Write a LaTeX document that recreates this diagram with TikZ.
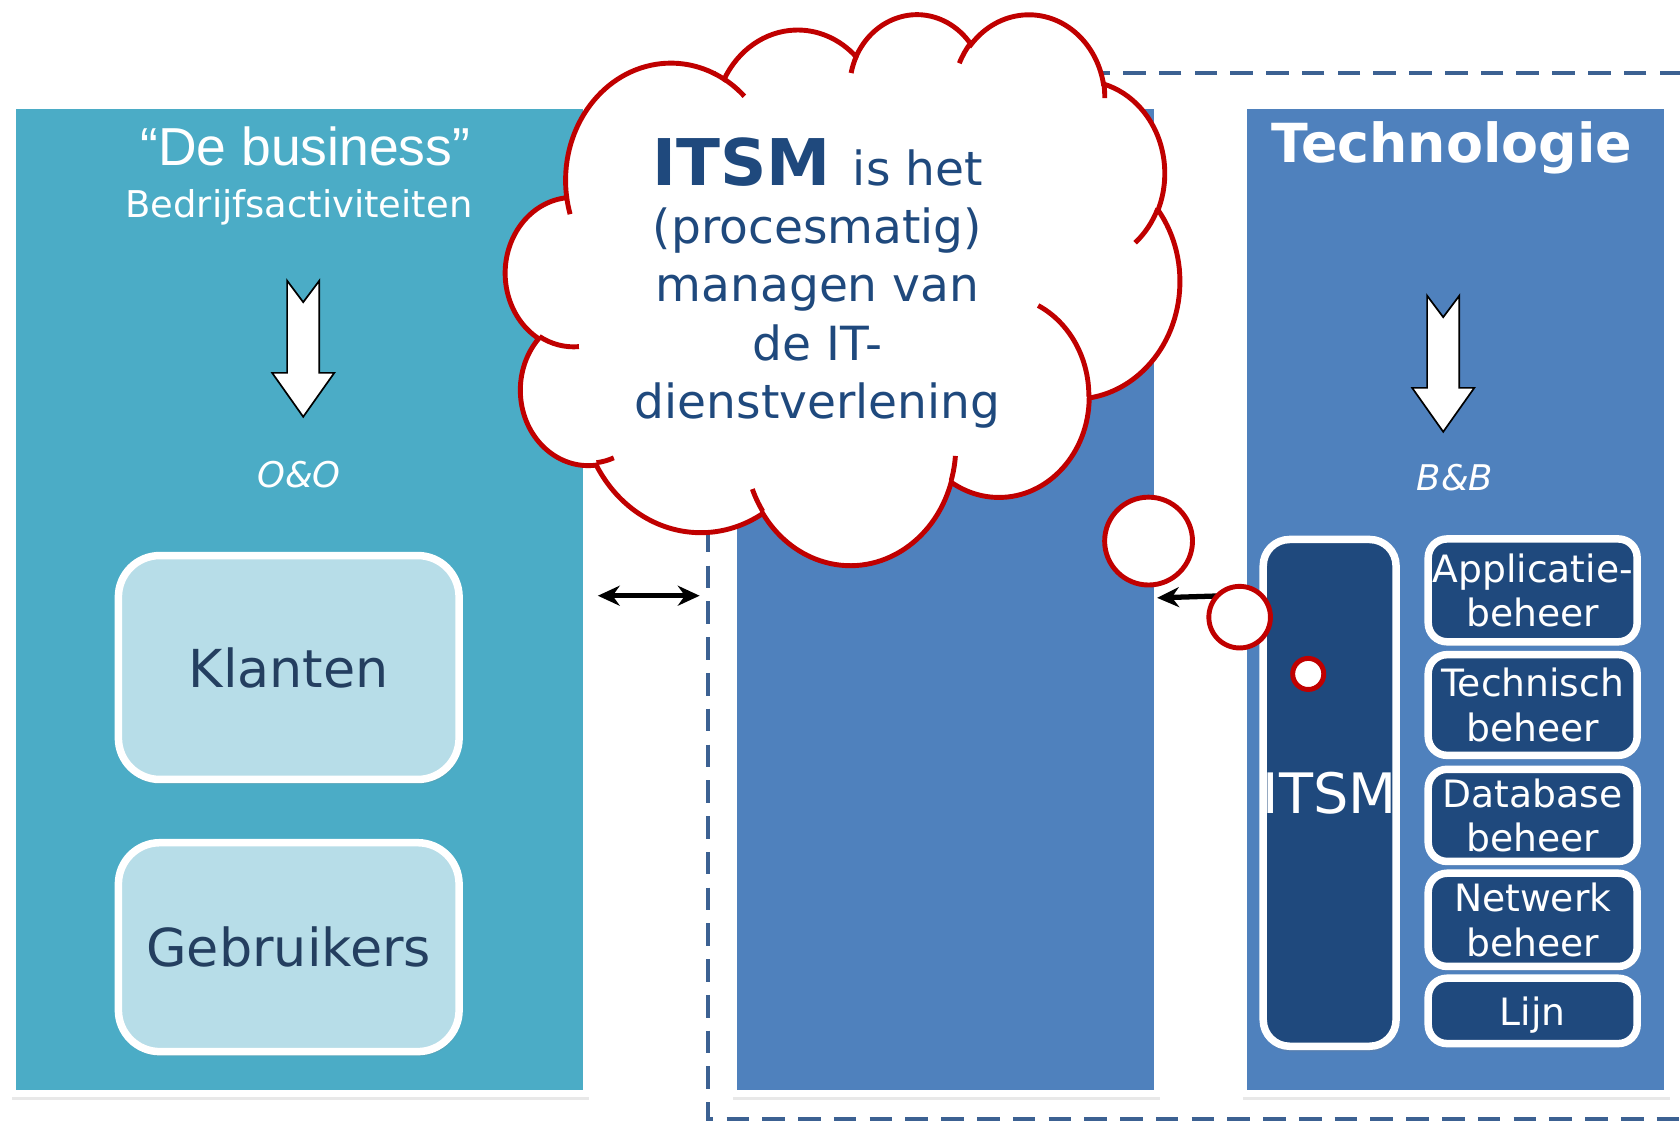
\documentclass[tikz,border=0pt]{standalone}
\usepackage{fontspec}
\setmainfont{DejaVu Sans}
\newfontfamily\arialfont{Liberation Sans}
\usetikzlibrary{arrows.meta,shadows,calc}
\definecolor{busteal}{HTML}{4BACC6}
\definecolor{paleteal}{HTML}{B7DDE8}
\definecolor{midblue}{HTML}{4F81BD}
\definecolor{deepnavy}{HTML}{1F497D}
\definecolor{inknavy}{HTML}{243F60}
\definecolor{cloudred}{HTML}{C00000}
\definecolor{dashblue}{HTML}{3C6192}
\newcommand{\pxu}{0.1mm}
\tikzset{
  softshadow/.style={drop shadow={shadow xshift=0.3pt, shadow yshift=-1pt, shadow scale=1.006, opacity=0.18}},
  panel/.style={draw=white, line width=6*\pxu, inner sep=0pt, minimum width=396*\pxu,
    minimum height=922*\pxu, softshadow},
  roleblock/.style={draw=white, fill=paleteal, line width=7*\pxu, rounded corners=11pt,
    inner sep=0pt, minimum width=318*\pxu, text=inknavy,
    font=\fontsize{13.9}{16}\selectfont, softshadow},
  taskblock/.style={draw=white, fill=deepnavy, line width=7*\pxu, rounded corners=5pt,
    inner sep=0pt, minimum width=195*\pxu, text=white, align=center,
    font=\fontsize{10}{11.9}\selectfont, softshadow},
  blockarrow/.style={draw=black, fill=white, line width=0.45pt},
  puff/.style={circle, draw=cloudred, fill=white, line width=1.3pt, inner sep=0pt},
  lbl/.style={text=white, anchor=base, inner sep=0pt},
  link/.style={line width=1.4pt},
  oarc/.style n args={4}{x radius=#1, y radius=#2,
    start angle={atan2(#1*sin(#3),#2*cos(#3))},
    delta angle={mod(atan2(#1*sin(#3+#4),#2*cos(#3+#4))-atan2(#1*sin(#3),#2*cos(#3))+720,360)}}
}
\begin{document}
\begin{tikzpicture}[x=\pxu, y=-\pxu, >={Stealth[length=5.8pt,width=5.3pt]}]
\useasboundingbox (0,0) rectangle (1568,1046);
% three columns
\node[panel, fill=busteal, minimum width=536*\pxu] (bus) at (279.5,559.5) {};
\node[panel, fill=midblue] (mid) at (882.5,559.5) {};
\node[panel, fill=midblue] (tech) at (1358.5,559.5) {};

\node[lbl, font=\arialfont\fontsize{14.2}{16}\selectfont] (bustitle) at (285,154) {“De business”};
\node[lbl, font=\fontsize{9.8}{12}\selectfont] (bussub) at (279,203) {Bedrijfsactiviteiten};
\node[lbl, font=\itshape\fontsize{9.4}{11}\selectfont] (busout) at (279,455) {O\&O};
\node[lbl, font=\bfseries\fontsize{14.3}{16}\selectfont] (techtitle) at (1355,152) {Technologie};
\node[lbl, font=\itshape\fontsize{9.4}{11}\selectfont] (techout) at (1358,458) {B\&B};

\foreach \ax/\ay in {283/262,1347/276}
  \draw[blockarrow] (\ax-15,\ay) -- (\ax,\ay+20) -- (\ax+15,\ay) -- (\ax+15,\ay+86)
    -- (\ax+29,\ay+86) -- (\ax,\ay+127) -- (\ax-29,\ay+86) -- (\ax-15,\ay+86) -- cycle;

\node[roleblock, minimum height=209*\pxu] (klanten) at (269.5,623) {Klanten};
\node[roleblock, minimum height=195*\pxu] (gebruikers) at (269.5,884) {Gebruikers};

\node[taskblock, minimum width=124*\pxu, minimum height=473*\pxu, rounded corners=7pt] (itsm) at (1241,740) {};
\node[lbl, anchor=center, font=\fontsize{14.8}{17}\selectfont] (itsmname) at (itsm) {ITSM};
\node[taskblock, minimum height=96*\pxu] (appb) at (1430.5,551) {Applicatie-\\beheer};
\node[taskblock, minimum height=94*\pxu] (techb) at (1430.5,658) {Technisch\\beheer};
\node[taskblock, minimum height=86*\pxu] (dbb) at (1430.5,761) {Database\\beheer};
\node[taskblock, minimum height=87*\pxu] (netb) at (1430.5,858.5) {Netwerk\\beheer};
\node[taskblock, minimum height=61*\pxu, text depth=0pt] (lijn) at (1430.5,943.5) {Lijn};

% dashed boundary
\draw[dashblue, line width=1.15pt, dash pattern=on 6pt off 3.5pt] (1570,68) -- (661,68) -- (661,1045) -- (1570,1045);

\coordinate (gate) at (653,556);
\draw[<->, link] ($(bus.east)+(7.5,-3.5)$) -- (gate);
\draw[->, link] ($(itsm.north west)+(0,55)$) -- ($(mid.east)+(-3.5,-1.5)$);

% the thought cloud
\begin{scope}[shift={(472,12)}, xscale=1.456, yscale=1.19]
\draw[cloudred, fill=white, line width=1.3pt] (39.00,143.70)
  arc[oarc={67.53}{91.90}{-190.4875}{123.7805}]
  arc[oarc={53.33}{72.67}{-144.1024}{89.9452}]
  arc[oarc={43.65}{59.45}{-145.8079}{99.7230}]
  arc[oarc={48.57}{65.95}{-130.9861}{117.2417}]
  arc[oarc={53.33}{72.73}{-78.7089}{109.0269}]
  arc[oarc={67.75}{92.20}{-46.2673}{130.2690}]
  arc[oarc={57.85}{78.67}{0.6250}{114.0333}]
  arc[oarc={67.52}{92.15}{22.4516}{115.1726}]
  arc[oarc={77.20}{105.43}{66.2426}{75.7110}]
  arc[oarc={43.60}{59.18}{-274.9421}{146.7356}]
  arc[oarc={43.45}{59.45}{-246.8285}{152.5189}] -- cycle;
\draw[cloudred, line width=1.3pt]
  (46.93,261.77) arc[oarc={43.45}{59.45}{86.7420}{26.4295}]
  (69.28,348.99) arc[oarc={43.60}{59.18}{73.6105}{11.4475}]
  (164.78,390.90) arc[oarc={67.52}{92.15}{137.6242}{14.0811}]
  (288.27,347.51) arc[oarc={67.52}{92.15}{6.4533}{15.9984}]
  (341.29,229.54) arc[oarc={57.85}{78.67}{-70.2924}{70.9174}]
  (417.98,153.54) arc[oarc={53.33}{72.73}{30.3180}{27.7515}]
  (383.24,54.26) arc[oarc={48.57}{65.95}{-13.7443}{14.8589}]
  (290.78,39.52) arc[oarc={48.57}{65.95}{-149.1815}{18.1954}]
  (221.41,47.20) arc[oarc={43.65}{59.45}{-163.4943}{17.6864}]
  (140.00,51.92) arc[oarc={67.53}{91.90}{-66.7070}{12.3194}]
  (41.27,157.89) arc[oarc={67.53}{91.90}{157.6544}{11.8582}];
\end{scope}
\node[align=center, text=deepnavy, inner sep=0pt, font=\fontsize{12.5}{15.5}\selectfont] (thought) at (763,264)
  {{\bfseries\fontsize{17.1}{15.5}\selectfont ITSM }is het\\(procesmatig)\\managen van\\de IT-\\dienstverlening};

\node[puff, minimum size=82*\pxu] (puffa) at (1072,505) {};
\node[puff, minimum size=57.5*\pxu] (puffb) at (1157,576) {};
\node[puff, minimum size=29*\pxu] (puffc) at (1221,629) {};
\end{tikzpicture}
\end{document}
